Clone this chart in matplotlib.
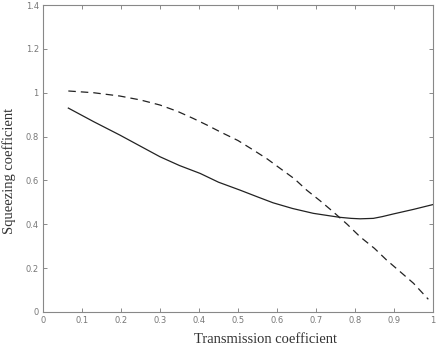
import matplotlib.pyplot as plt

# Data
solid_x = [0.065, 0.13, 0.197, 0.25, 0.30, 0.35, 0.403, 0.45, 0.505, 0.55, 0.59, 0.64, 0.693,
           0.73, 0.76, 0.79, 0.813, 0.847, 0.87, 0.898, 0.95, 1.0]
solid_y = [0.93, 0.868, 0.807, 0.756, 0.708, 0.668, 0.632, 0.592, 0.556, 0.525, 0.498, 0.472, 0.45,
           0.44, 0.432, 0.427, 0.425, 0.427, 0.435, 0.447, 0.468, 0.49]

dash_x = [0.065, 0.13, 0.197, 0.25, 0.30, 0.345, 0.385, 0.42, 0.454, 0.50, 0.539, 0.575, 0.608,
          0.645, 0.676, 0.71, 0.744, 0.78, 0.813, 0.85, 0.881, 0.915, 0.95, 0.988]
dash_y = [1.008, 1.0, 0.985, 0.967, 0.944, 0.915, 0.883, 0.853, 0.822, 0.782, 0.739, 0.698, 0.655,
          0.607, 0.556, 0.508, 0.457, 0.40, 0.343, 0.29, 0.237, 0.185, 0.131, 0.058]

x_ticks = [0, 0.1, 0.2, 0.3, 0.4, 0.5, 0.6, 0.7, 0.8, 0.9, 1]
y_ticks = [0, 0.2, 0.4, 0.6, 0.8, 1, 1.2, 1.4]

fig = plt.figure(figsize=(4.36, 3.5), dpi=100)
ax = fig.add_axes([0.0986, 0.1086, 0.8945, 0.877])

ax.plot(solid_x, solid_y, color='#222222', lw=0.9)
ax.plot(dash_x, dash_y, color='#222222', lw=0.9, ls=(0, (6, 4)))

ax.set_xlim(0, 1)
ax.set_ylim(0, 1.4)
ax.set_xticks(x_ticks)
ax.set_xticklabels([f'{t:g}' for t in x_ticks])
ax.set_yticks(y_ticks)
ax.set_yticklabels([f'{t:g}' for t in y_ticks])
ax.tick_params(direction='in', top=True, right=True, length=3, width=0.6,
               labelsize=6, colors='#777777', pad=3)
for s in ax.spines.values():
    s.set_color('#888888')
    s.set_linewidth(0.8)

ax.set_xlabel('Transmission coefficient', family='Liberation Serif', fontsize=10.5,
              color='#333333', va='center')
ax.xaxis.set_label_coords(0.57, -0.088)
ax.set_ylabel('Squeezing coefficient', family='Liberation Serif', fontsize=10.5,
              color='#333333', va='center')
ax.yaxis.set_label_coords(-0.087, 0.46)

fig.savefig('out.png', dpi=100)
